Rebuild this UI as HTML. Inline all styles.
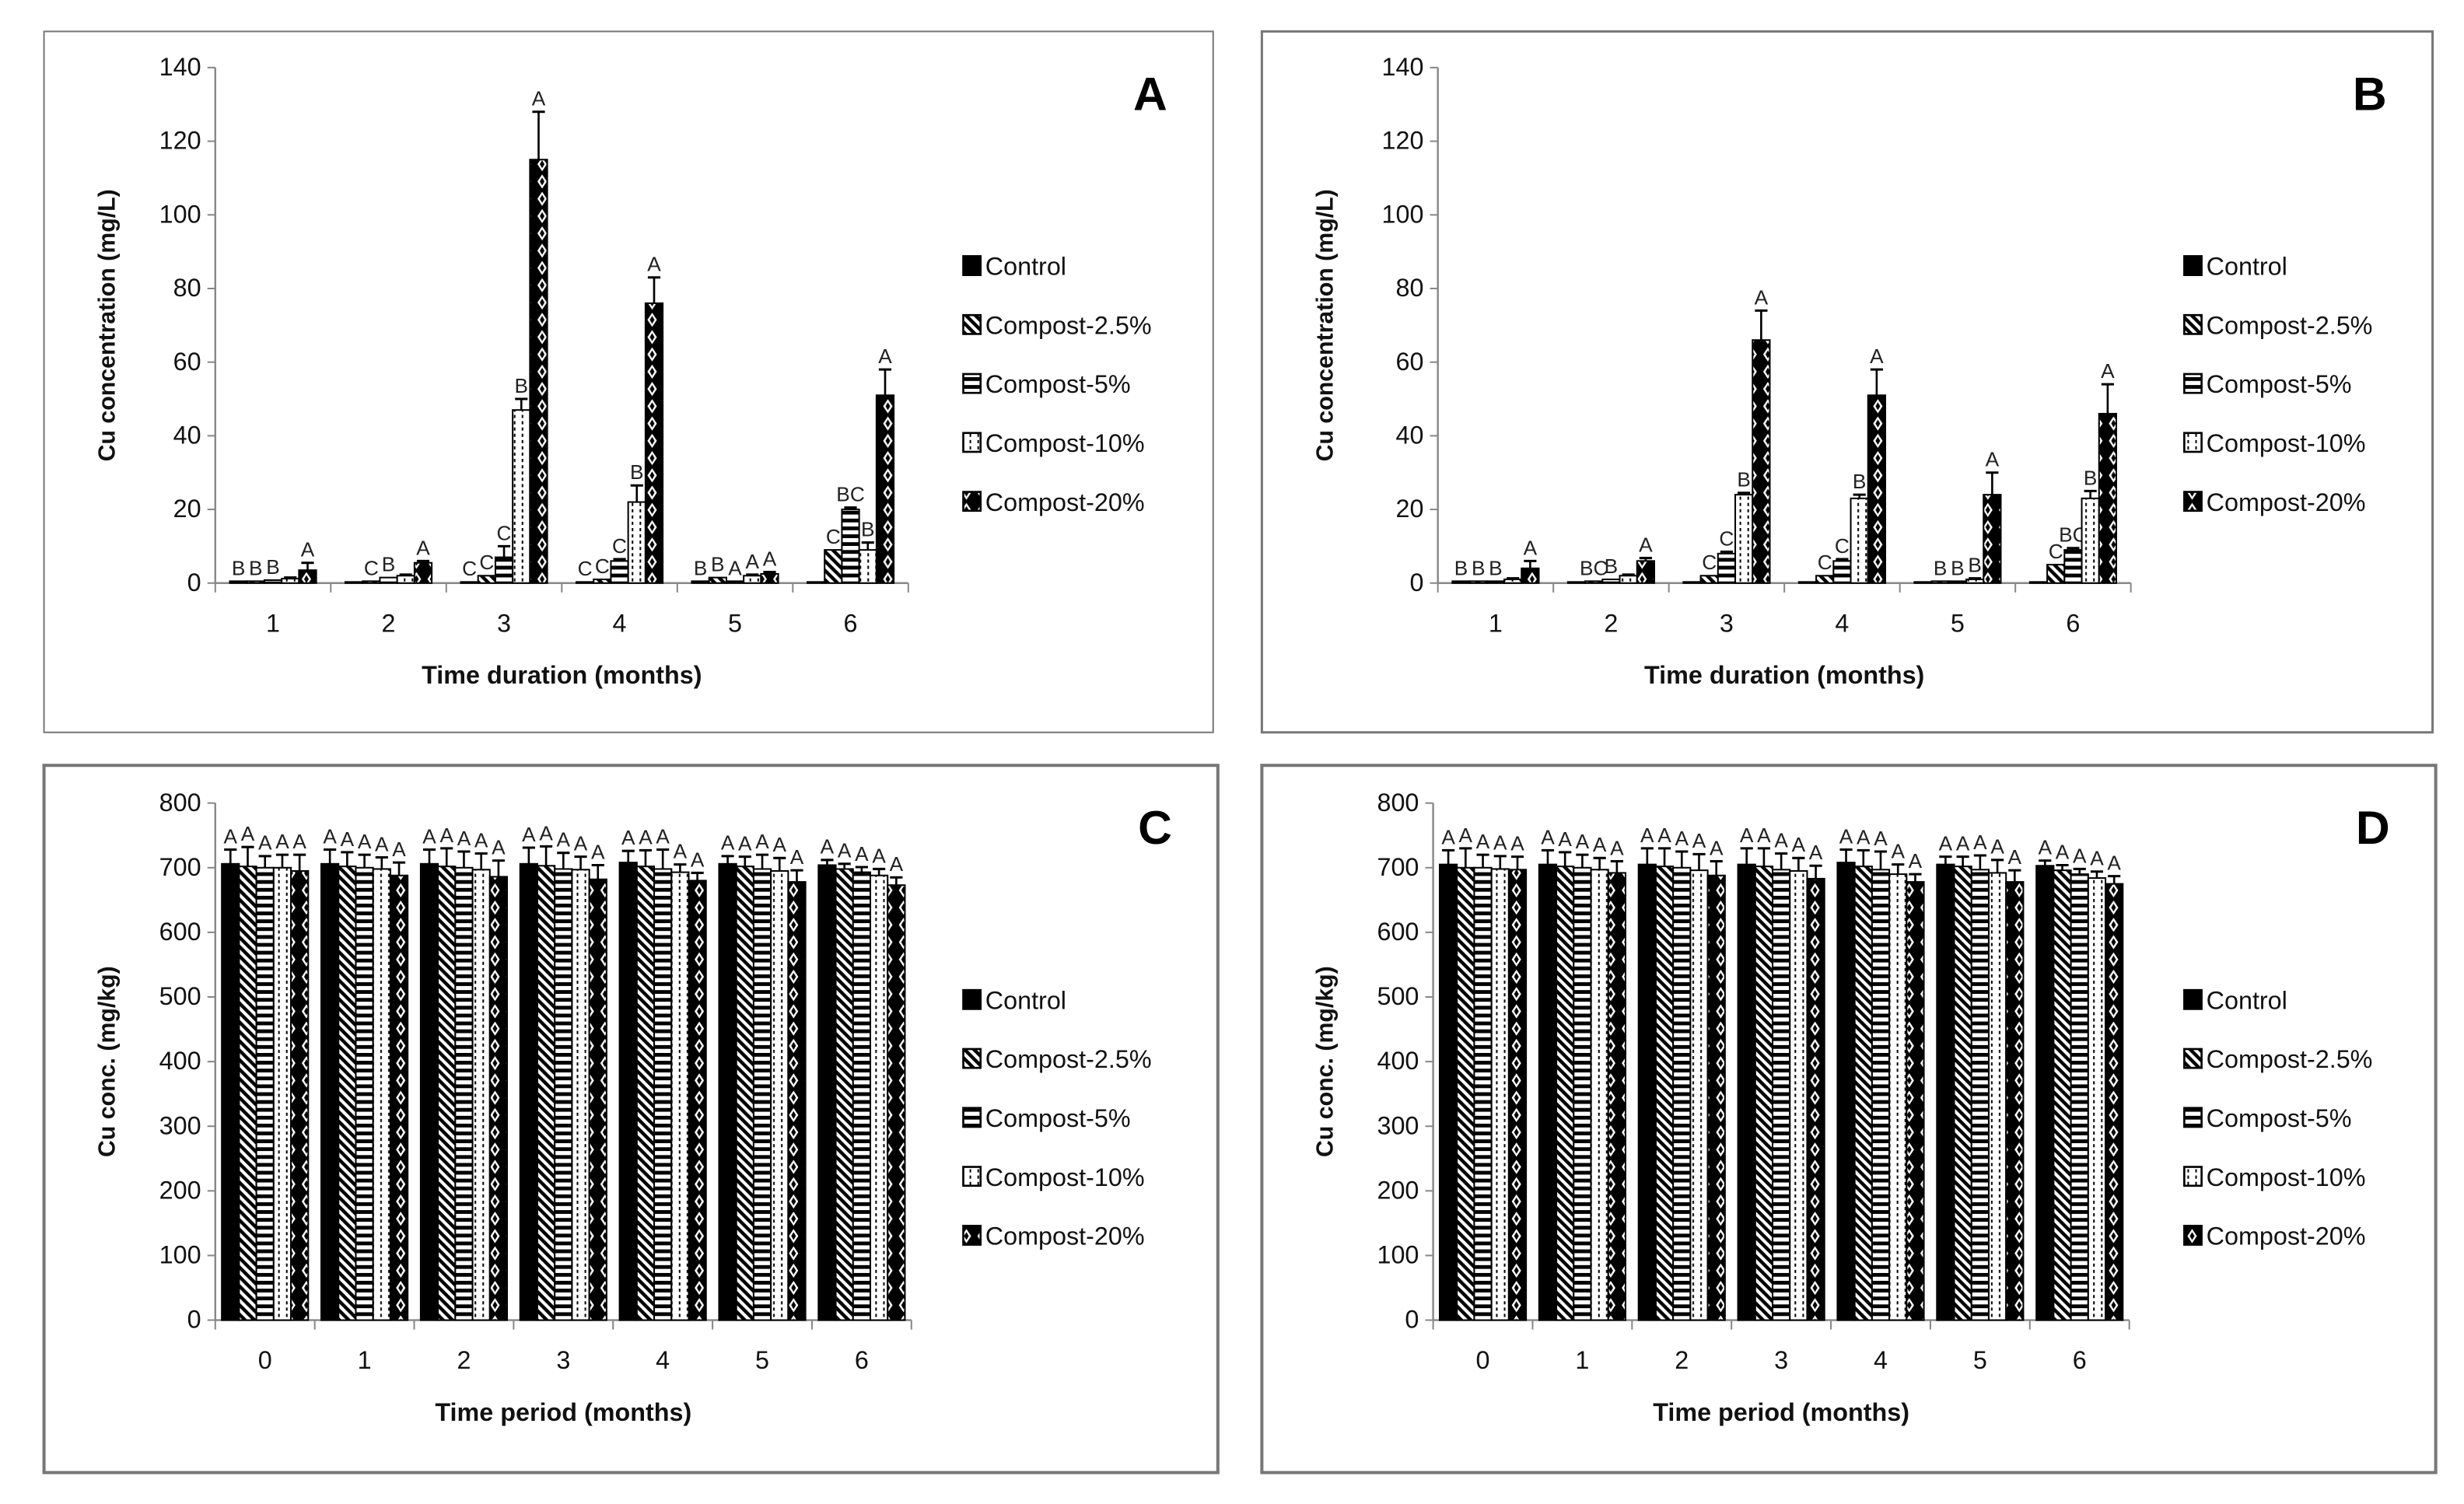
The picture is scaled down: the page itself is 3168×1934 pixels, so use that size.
<!DOCTYPE html>
<html><head><meta charset="utf-8"><style>
html,body{margin:0;padding:0;background:#fff}
svg{display:block}
text{font-family:"Liberation Sans",sans-serif}
</style></head><body>
<svg id="fig" width="3168" height="1934" viewBox="0 0 1568 957" preserveAspectRatio="none" xmlns="http://www.w3.org/2000/svg">
<defs>
<pattern id="p-diag" patternUnits="userSpaceOnUse" width="6" height="6"><rect width="6" height="6" fill="#fff"/><path d="M-1,-1 L7,7 M-1,5 L1,7 M5,-1 L7,1" stroke="#000" stroke-width="2.2"/></pattern>
<pattern id="p-horiz" patternUnits="userSpaceOnUse" width="6" height="5"><rect width="6" height="5" fill="#fff"/><rect y="0" width="6" height="2.4" fill="#000"/></pattern>
<pattern id="p-dot" patternUnits="userSpaceOnUse" width="5" height="4"><rect width="5" height="4" fill="#fff"/><rect x="2" y="0" width="1" height="2" fill="#000"/></pattern>
<pattern id="p-diam" patternUnits="userSpaceOnUse" width="10" height="11"><rect width="10" height="11" fill="#000"/><path d="M5,1 L8,5.5 L5,10 L2,5.5Z" fill="#fff"/><path d="M5,3 L6.5,5.5 L5,8 L3.5,5.5Z" fill="#000"/></pattern>
</defs>
</svg>
<script>
const seriesNames = ["Control","Compost-2.5%","Compost-5%","Compost-10%","Compost-20%"];
const fills = ["#000","url(#p-diag)","url(#p-horiz)","url(#p-dot)","url(#p-diam)"];

const catsAB = ["1","2","3","4","5","6"];
const catsCD = ["0","1","2","3","4","5","6"];
const ticksAB = [0,20,40,60,80,100,120,140];
const ticksCD = [0,100,200,300,400,500,600,700,800];

const valsA = [[0.5,0.3,0.3,0.3,0.5,0.3],[0.5,0.5,2,1,1.5,9],[0.8,1.5,7,6,0.5,20],[1.2,2,47,22,2,9],[3.5,5.5,115,76,2.5,51]];
const errA  = [[0,0,0,0,0,0],[0,0,0,0,0,0],[0,0,3,0.5,0,0.5],[0.3,0.3,3,4.5,0.3,2],[2,0.5,13,7,0.5,7]];
const letA  = [["B","","C","C","B",""],["B","C","C","C","B","C"],["B","B","C","C","A","BC"],["","","B","B","A","B"],["A","A","A","A","A","A"]];

const valsB = [[0.5,0.3,0.3,0.3,0.3,0.3],[0.5,0.5,2,2,0.5,5],[0.5,1,8,6,0.5,9],[1,2,24,23,1,23],[4,6,66,51,24,46]];
const errB  = [[0,0,0,0,0,0],[0,0,0,0,0,0],[0,0,0.5,0.5,0,0.5],[0.3,0.3,0.5,1,0.3,2],[2,0.8,8,7,6,8]];
const letB  = [["B","","","","",""],["B","BC","C","C","B","C"],["B","B","C","C","B","BC"],["","","B","B","B","B"],["A","A","A","A","A","A"]];

const valsC = [[706,706,706,706,708,706,704],[702,702,702,703,702,702,698],[700,700,700,698,698,698,693],[700,698,697,697,693,695,688],[695,688,686,682,680,678,673]];
const errC  = [[22,22,22,25,18,12,8],[30,22,28,30,25,15,8],[18,20,25,25,30,22,8],[20,18,25,20,12,20,10],[25,20,25,22,12,18,12]];
const valsD = [[705,705,705,705,708,705,703],[700,702,702,702,702,702,696],[700,700,700,697,697,697,690],[698,697,696,695,690,692,684],[697,692,688,683,678,678,675]];
const errD  = [[22,22,25,25,20,12,8],[30,22,28,28,25,15,8],[20,20,25,25,28,22,8],[20,18,25,20,15,20,10],[20,18,22,20,12,18,12]];
const letCD = ["A","A","A","A","A"];

const svg = document.getElementById('fig');
const NS = "http://www.w3.org/2000/svg";
function mk(tag, attrs, parent){const e=document.createElementNS(NS,tag);for(const k in attrs)e.setAttribute(k,attrs[k]);(parent||svg).appendChild(e);return e;}
function txt(s, attrs, parent){const e=mk('text',attrs,parent);e.textContent=s;return e;}

function panel(cfg){
  const g = mk('g',{});
  
  
  const box = mk('rect',{x:cfg.bx,y:cfg.by,width:cfg.bw,height:cfg.bh,fill:'none',stroke:'#777','stroke-width':cfg.bs},g);
  
  
  const y0=cfg.y0, y1=cfg.y1, max=cfg.ticks[cfg.ticks.length-1];
  const ys = v => y0-(v/max)*(y0-y1);
  const n = cfg.cats.length, step=(cfg.x1-cfg.x0)/n;
  const xc = i => cfg.x0+step*(i+0.5);
  mk('line',{x1:cfg.x0,y1:y1,x2:cfg.x0,y2:y0,stroke:'#888','stroke-width':1.2},g);
  mk('line',{x1:cfg.x0,y1:y0,x2:cfg.x1,y2:y0,stroke:'#888','stroke-width':1.2},g);
  cfg.ticks.forEach(t=>{
    mk('line',{x1:cfg.x0-5,y1:ys(t),x2:cfg.x0,y2:ys(t),stroke:'#888','stroke-width':1},g);
    const tl=txt(String(t),{x:cfg.x0-9,y:ys(t)+5,'text-anchor':'end','font-size':16,fill:'#111'},g);
    
    
  });
  for(let i=0;i<=n;i++) mk('line',{x1:cfg.x0+step*i,y1:y0,x2:cfg.x0+step*i,y2:y0+6,stroke:'#888','stroke-width':1},g);
  cfg.cats.forEach((c,i)=>{
    const l=txt(c,{x:xc(i),y:y0+31,'text-anchor':'middle','font-size':16,fill:'#111'},g);
    
    
  });
  const bw=cfg.barW;
  cfg.vals.forEach((sv,s)=>{
    sv.forEach((v,i)=>{
      const x=xc(i)+(s-2)*bw-bw/2;
      const r=mk('rect',{x:x,y:ys(v),width:bw,height:Math.max(0.5,y0-ys(v)),fill:fills[s],stroke:'#000','stroke-width':1},g);
      
      
      const e=cfg.errs[s][i];
      const top=ys(v+e);
      if(e>0){
        mk('line',{x1:x+bw/2,y1:ys(v),x2:x+bw/2,y2:top,stroke:'#000','stroke-width':1.3},g);
        mk('line',{x1:x+bw/2-4,y1:top,x2:x+bw/2+4,y2:top,stroke:'#000','stroke-width':1.5},g);
      }
      const L = cfg.lets ? cfg.lets[s][i] : cfg.letAll[s];
      if(L){
        const lt=txt(L,{x:x+bw/2,y:top-4,'text-anchor':'middle','font-size':13,fill:'#222'},g);
        
        
      }
    });
  });
  const yt=txt(cfg.ylabel,{transform:`translate(${cfg.bx+45},${(y0+y1)/2}) rotate(-90)`,'text-anchor':'middle','font-size':15,'font-weight':'bold',fill:'#111'},g);
  
  
  const xt=txt(cfg.xlabel,{x:(cfg.x0+cfg.x1)/2,y:y0+64,'text-anchor':'middle','font-size':16,'font-weight':'bold',fill:'#111'},g);
  
  
  const pl=txt(cfg.id,{x:cfg.bx+cfg.bw-40,y:cfg.by+50,'text-anchor':'middle','font-size':30,'font-weight':'bold','font-family':'Liberation Serif, serif',fill:'#000'},g);
  
  
  seriesNames.forEach((nm,s)=>{
    const ly=cfg.legY+s*37.5;
    const lg=mk('g',{},g);
    
    
    mk('rect',{x:cfg.legX,y:ly-6,width:11,height:12,fill:fills[s],stroke:'#000','stroke-width':1.3},lg);
    txt(nm,{x:cfg.legX+14,y:ly+6,'font-size':16,fill:'#111'},lg);
  });
}

panel({id:'A',bx:28,by:20,bw:744,bh:446,bs:1,x0:137,x1:578,y0:371,y1:43,ticks:ticksAB,cats:catsAB,vals:valsA,errs:errA,lets:letA,barW:11,
  ylabel:'Cu concentration (mg/L)',xlabel:'Time duration (months)',legX:613,legY:169});
panel({id:'B',bx:803,by:20,bw:745,bh:446,bs:1.5,x0:915,x1:1356,y0:371,y1:43,ticks:ticksAB,cats:catsAB,vals:valsB,errs:errB,lets:letB,barW:11,
  ylabel:'Cu concentration (mg/L)',xlabel:'Time duration (months)',legX:1390,legY:169});
panel({id:'C',bx:28,by:487,bw:747,bh:450,bs:2,x0:137,x1:580,y0:840,y1:511,ticks:ticksCD,cats:catsCD,vals:valsC,errs:errC,letAll:letCD,barW:11,
  ylabel:'Cu conc. (mg/kg)',xlabel:'Time period (months)',legX:613,legY:636});
panel({id:'D',bx:803,by:487,bw:747,bh:450,bs:2,x0:912,x1:1355,y0:840,y1:511,ticks:ticksCD,cats:catsCD,vals:valsD,errs:errD,letAll:letCD,barW:11,
  ylabel:'Cu conc. (mg/kg)',xlabel:'Time period (months)',legX:1390,legY:636});
</script>
</body></html>
